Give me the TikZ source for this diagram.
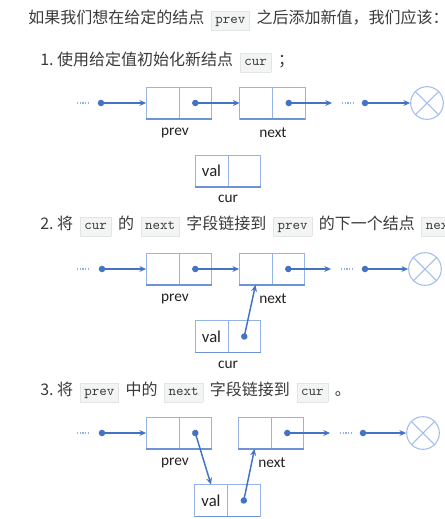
\documentclass[tikz,border=0pt]{standalone}
\usepackage{fontspec}
\setmainfont{Noto Sans CJK SC}
\newfontfamily\labelfont{Carlito}
\usetikzlibrary{positioning,arrows.meta}

\definecolor{boxline}{HTML}{94B4E8}
\definecolor{boxbase}{HTML}{6E94D6}
\definecolor{ptrblue}{HTML}{4472C4}
\definecolor{nilline}{HTML}{A4BEEB}
\definecolor{dotblue}{HTML}{8EB1E8}
\definecolor{bodytext}{HTML}{3A3A3A}
\definecolor{lbltext}{HTML}{222222}
\definecolor{codebg}{HTML}{F3F4F4}
\definecolor{codeline}{HTML}{E4E4E4}

\setlength{\fboxrule}{0.4pt}
\setlength{\fboxsep}{2pt}
\newcommand{\code}[1]{\hspace{5pt}\fcolorbox{codeline}{codebg}{\hspace{1pt}\ttfamily\fontsize{10.7pt}{12pt}\selectfont\rule[-2.6pt]{0pt}{9.6pt}#1\hspace{1pt}}\hspace{5pt}}

\begin{document}
\begin{tikzpicture}[x=0.75pt, y=-0.75pt,
  cell/.style={rectangle, draw=boxline, line width=0.6pt, outer sep=0pt, inner sep=0pt,
               minimum width=24.6pt, minimum height=24pt,
               font=\labelfont\fontsize{12.5pt}{14pt}\selectfont, text=lbltext},
  under/.style={draw=boxbase, line width=1pt},
  ptr/.style={{Circle[length=4.8pt]}-{Stealth[length=5pt, width=4.4pt]}, ptrblue,
              line width=1.1pt, shorten <=-2.4pt},
  dotline/.style={draw=dotblue, line width=0.8pt, dash pattern=on 1pt off 1pt},
  nil/.style={circle, draw=nilline, line width=0.8pt, minimum size=24.5pt, inner sep=0pt},
  lbl/.style={font=\labelfont\fontsize{11.5pt}{13pt}\selectfont, text=lbltext},
  para/.style={anchor=west, inner sep=0pt, text=bodytext, font=\fontsize{12pt}{14pt}\selectfont}
]
  \useasboundingbox[fill=white] (0,0) rectangle (445,519);
  \clip (0,0) rectangle (445,519);

  % Text
  \node[para] (title) at (28,20) {如果我们想在给定的结点\code{prev}之后添加新值，我们应该：};
  \node[para] (step1) at (40,62) {1.\ 使用给定值初始化新结点\code{cur}；};
  \node[para] (step2) at (40,226) {2.\ 将\code{cur}的\code{next}字段链接到\code{prev}的下一个结点\code{next}；};
  \node[para] (step3) at (40,392) {3.\ 将\code{prev}中的\code{next}字段链接到\code{cur}。};

  % Step 1
  \node[cell] (p1d) at (162.5,103) {};
  \node[cell, right=0pt of p1d] (p1p) {};
  \node[cell] (n1d) at (256,103) {};
  \node[cell, right=0pt of n1d] (n1p) {};
  \node[cell] (c1d) at (211.5,171) {val};
  \node[cell, right=0pt of c1d] (c1p) {};
  \node[nil] (nil1) at (427,103) {};
  \draw[nilline, line width=0.8pt] (nil1.north west) -- (nil1.south east)
                                   (nil1.north east) -- (nil1.south west);
  \draw[under] (p1d.south west) -- (p1p.south east);
  \draw[under] (n1d.south west) -- (n1p.south east);
  \draw[under] (c1d.south west) -- (c1p.south east);
  \node[lbl] (lp1) at (175,133) {prev};
  \node[lbl] (ln1) at (273,133) {next};
  \node[lbl] (lc1) at (228,199) {cur};

  \coordinate (a1) at (77,103);
  \coordinate (b1) at (90,103);
  \coordinate (s1) at (101,103);
  \coordinate (e1) at (332,103);
  \coordinate (f1) at (342,103);
  \coordinate (g1) at (354,103);
  \coordinate (t1) at (365,103);
  \draw[dotline] (a1) -- (b1);
  \draw[dotline] (f1) -- (g1);
  \draw[ptr] (s1) -- (p1d.west);
  \draw[ptr] (p1p.center) -- (n1d.west);
  \draw[ptr] (n1p.center) -- (e1);
  \draw[ptr] (t1) -- (nil1.west);

  % Step 2
  \node[cell] (p2d) at (162.5,269) {};
  \node[cell, right=0pt of p2d] (p2p) {};
  \node[cell] (n2d) at (255.5,269) {};
  \node[cell, right=0pt of n2d] (n2p) {};
  \node[cell] (c2d) at (211.5,336.5) {val};
  \node[cell, right=0pt of c2d] (c2p) {};
  \node[nil] (nil2) at (425,269) {};
  \draw[nilline, line width=0.8pt] (nil2.north west) -- (nil2.south east)
                                   (nil2.north east) -- (nil2.south west);
  \draw[under] (p2d.south west) -- (p2p.south east);
  \draw[under] (n2d.south west) -- (n2p.south east);
  \draw[under] (c2d.south west) -- (c2p.south east);
  \node[lbl] (lp2) at (175,299) {prev};
  \node[lbl] (ln2) at (273,299) {next};
  \node[lbl] (lc2) at (228,365) {cur};

  \coordinate (a2) at (77,269);
  \coordinate (b2) at (90,269);
  \coordinate (s2) at (102,269);
  \coordinate (e2) at (331,269);
  \coordinate (f2) at (341,269);
  \coordinate (g2) at (353,269);
  \coordinate (t2) at (365,269);
  \draw[dotline] (a2) -- (b2);
  \draw[dotline] (f2) -- (g2);
  \draw[ptr] (s2) -- (p2d.west);
  \draw[ptr] (p2p.center) -- (n2d.west);
  \draw[ptr] (n2p.center) -- (e2);
  \draw[ptr] (t2) -- (nil2.west);
  \draw[ptr] (c2p.center) -- (n2d.south);

  % Step 3
  \node[cell] (p3d) at (162.5,433) {};
  \node[cell, right=0pt of p3d] (p3p) {};
  \node[cell] (n3d) at (254.5,433) {};
  \node[cell, right=0pt of n3d] (n3p) {};
  \node[cell] (c3d) at (211,500.5) {val};
  \node[cell, right=0pt of c3d] (c3p) {};
  \node[nil] (nil3) at (423,433) {};
  \draw[nilline, line width=0.8pt] (nil3.north west) -- (nil3.south east)
                                   (nil3.north east) -- (nil3.south west);
  \draw[under] (p3d.south west) -- (p3p.south east);
  \draw[under] (n3d.south west) -- (n3p.south east);
  \draw[under] (c3d.south west) -- (c3p.south east);
  \node[lbl] (lp3) at (175,463) {prev};
  \node[lbl] (ln3) at (272,463) {next};

  \coordinate (a3) at (77,433);
  \coordinate (b3) at (90,433);
  \coordinate (s3) at (102,433);
  \coordinate (e3) at (330,433);
  \coordinate (f3) at (340,433);
  \coordinate (g3) at (352,433);
  \coordinate (t3) at (363,433);
  \draw[dotline] (a3) -- (b3);
  \draw[dotline] (f3) -- (g3);
  \draw[ptr] (s3) -- (p3d.west);
  \draw[ptr] (p3p.center) -- (c3d.north);
  \draw[ptr] (n3p.center) -- (e3);
  \draw[ptr] (t3) -- (nil3.west);
  \draw[ptr] (c3p.center) -- (n3d.south);
\end{tikzpicture}
\end{document}
